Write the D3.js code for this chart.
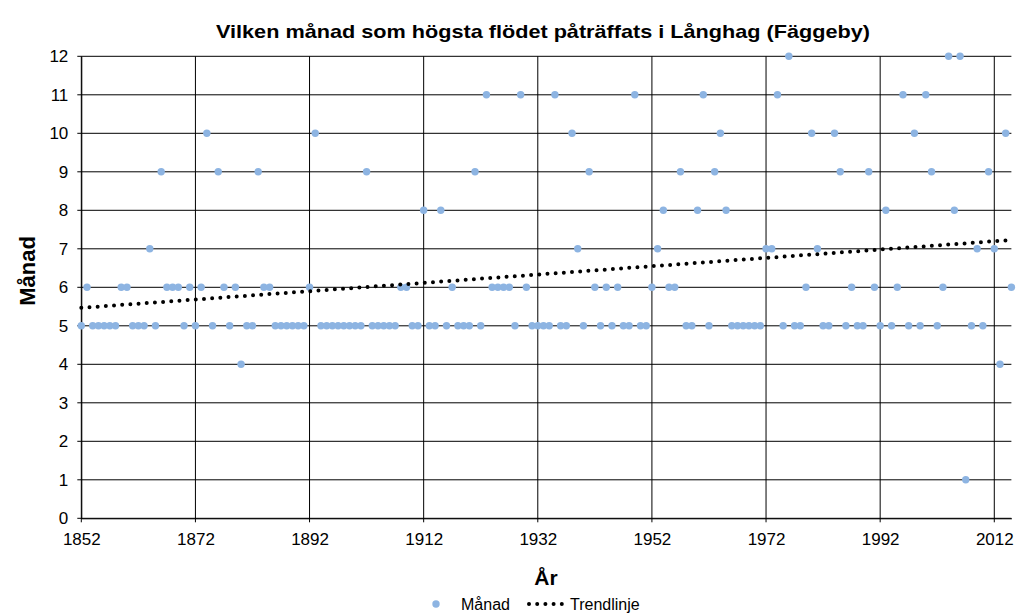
<!DOCTYPE html>
<html>
<head>
<meta charset="utf-8">
<script src="https://cdn.jsdelivr.net/npm/d3@7"></script>
<style>
  body { margin: 0; background: #fff; }
  text { font-family: "Liberation Sans", Arial, sans-serif; }
</style>
</head>
<body>
<svg id="chart" width="1019" height="615"></svg>
<script>
// year of annual max flow and the month it occurred
var firstYear = 1852;
var months = [
  5, 6, 5, 5, 5, 5, 5, 6, 6, 5,   // 1852-1861
  5, 5, 7, 5, 9, 6, 6, 6, 5, 6,   // 1862-1871
  5, 6, 10, 5, 9, 6, 5, 6, 4, 5,  // 1872-1881
  5, 9, 6, 6, 5, 5, 5, 5, 5, 5,   // 1882-1891
  6, 10, 5, 5, 5, 5, 5, 5, 5, 5,  // 1892-1901
  9, 5, 5, 5, 5, 5, 6, 6, 5, 5,   // 1902-1911
  8, 5, 5, 8, 5, 6, 5, 5, 5, 9,   // 1912-1921
  5, 11, 6, 6, 6, 6, 5, 11, 6, 5, // 1922-1931
  5, 5, 5, 11, 5, 5, 10, 7, 5, 9, // 1932-1941
  6, 5, 6, 5, 6, 5, 5, 11, 5, 5,  // 1942-1951
  6, 7, 8, 6, 6, 9, 5, 5, 8, 11,  // 1952-1961
  5, 9, 10, 8, 5, 5, 5, 5, 5, 5,  // 1962-1971
  7, 7, 11, 5, 12, 5, 5, 6, 10, 7, // 1972-1981
  5, 5, 10, 9, 5, 6, 5, 5, 9, 6,  // 1982-1991
  5, 8, 5, 6, 11, 5, 10, 5, 11, 9, // 1992-2001
  5, 6, 12, 8, 12, 1, 5, 7, 5, 9, // 2002-2011
  7, 4, 10, 6                     // 2012-2015
];
var xTicks = [1852, 1872, 1892, 1912, 1932, 1952, 1972, 1992, 2012];
var yTicks = [0, 1, 2, 3, 4, 5, 6, 7, 8, 9, 10, 11, 12];
var seriesName = "Månad";
var trendName = "Trendlinje";

var points = months.map(function(m, i) { return { x: firstYear + i, y: m }; });

var pL = 81.3, pR = 1011.4, pT = 56.3, pB = 518.3;
var x = d3.scaleLinear().domain([1852, 2015]).range([pL, pR]);
var y = d3.scaleLinear().domain([0, 12]).range([pB, pT]);

var svg = d3.select('#chart');

// gridlines
svg.append('g')
  .selectAll('line')
  .data(yTicks)
  .enter()
  .append('line')
  .attr('x1', pL - 4).attr('x2', pR)
  .attr('y1', function(d) { return y(d); })
  .attr('y2', function(d) { return y(d); })
  .attr('stroke', '#000').attr('stroke-width', 1);

svg.append('g')
  .selectAll('line')
  .data(xTicks)
  .enter()
  .append('line')
  .attr('x1', function(d) { return x(d); })
  .attr('x2', function(d) { return x(d); })
  .attr('y1', pT).attr('y2', pB + 4)
  .attr('stroke', '#000').attr('stroke-width', 1);

// axes (labels, axis lines)
var yAxis = svg.append('g')
  .attr('transform', 'translate(' + pL + ',0)')
  .call(d3.axisLeft(y).tickValues(yTicks).tickSize(0).tickPadding(13));
yAxis.select('.domain').attr('stroke', '#000');
yAxis.selectAll('text').attr('font-size', 17).attr('fill', '#000')
  .attr('font-family', '"Liberation Sans", Arial, sans-serif');

var xAxis = svg.append('g')
  .attr('transform', 'translate(0,' + pB + ')')
  .call(d3.axisBottom(x).tickValues(xTicks).tickFormat(d3.format('d')).tickSize(0).tickPadding(15));
xAxis.select('.domain').attr('stroke', '#000');
xAxis.selectAll('text').attr('font-size', 17).attr('fill', '#000')
  .attr('font-family', '"Liberation Sans", Arial, sans-serif');

// points
svg.append('g')
  .selectAll('circle')
  .data(points)
  .enter()
  .append('circle')
  .attr('cx', function(d) { return x(d.x); })
  .attr('cy', function(d) { return y(d.y); })
  .attr('r', 3.7)
  .attr('fill', '#8db4e2');

// linear trend (least squares)
var mx = d3.mean(points, function(d) { return d.x; });
var my = d3.mean(points, function(d) { return d.y; });
var sxy = d3.sum(points, function(d) { return (d.x - mx) * (d.y - my); });
var sxx = d3.sum(points, function(d) { return (d.x - mx) * (d.x - mx); });
var slope = sxy / sxx, icept = my - slope * mx;
var trend = [1852, 2015].map(function(t) { return { x: t, y: icept + slope * t }; });

var line = d3.line()
  .x(function(d) { return x(d.x); })
  .y(function(d) { return y(d.y); });

svg.append('path')
  .attr('d', line(trend))
  .attr('fill', 'none')
  .attr('stroke', '#000')
  .attr('stroke-width', 4)
  .attr('stroke-linecap', 'round')
  .attr('stroke-dasharray', '0,8.2');

// titles
svg.append('text')
  .attr('x', 543).attr('y', 38)
  .attr('text-anchor', 'middle')
  .attr('font-size', 19).attr('font-weight', 'bold')
  .attr('textLength', 654).attr('lengthAdjust', 'spacingAndGlyphs')
  .text('Vilken månad som högsta flödet påträffats i Långhag (Fäggeby)');

svg.append('text')
  .attr('transform', 'translate(35,271) rotate(-90)')
  .attr('text-anchor', 'middle')
  .attr('font-size', 22).attr('font-weight', 'bold')
  .text('Månad');

svg.append('text')
  .attr('x', 546).attr('y', 585)
  .attr('text-anchor', 'middle')
  .attr('font-size', 21).attr('font-weight', 'bold')
  .text('År');

// legend
var lg = svg.append('g');
lg.append('circle').attr('cx', 436).attr('cy', 604).attr('r', 3.7).attr('fill', '#8db4e2');
lg.append('text').attr('x', 461).attr('y', 610).attr('font-size', 16).text(seriesName);
lg.append('path')
  .attr('d', 'M529,604H565')
  .attr('stroke', '#000').attr('stroke-width', 4)
  .attr('stroke-linecap', 'round').attr('stroke-dasharray', '0,8.2');
lg.append('text').attr('x', 570).attr('y', 610).attr('font-size', 16).text(trendName);
</script>
</body>
</html>
